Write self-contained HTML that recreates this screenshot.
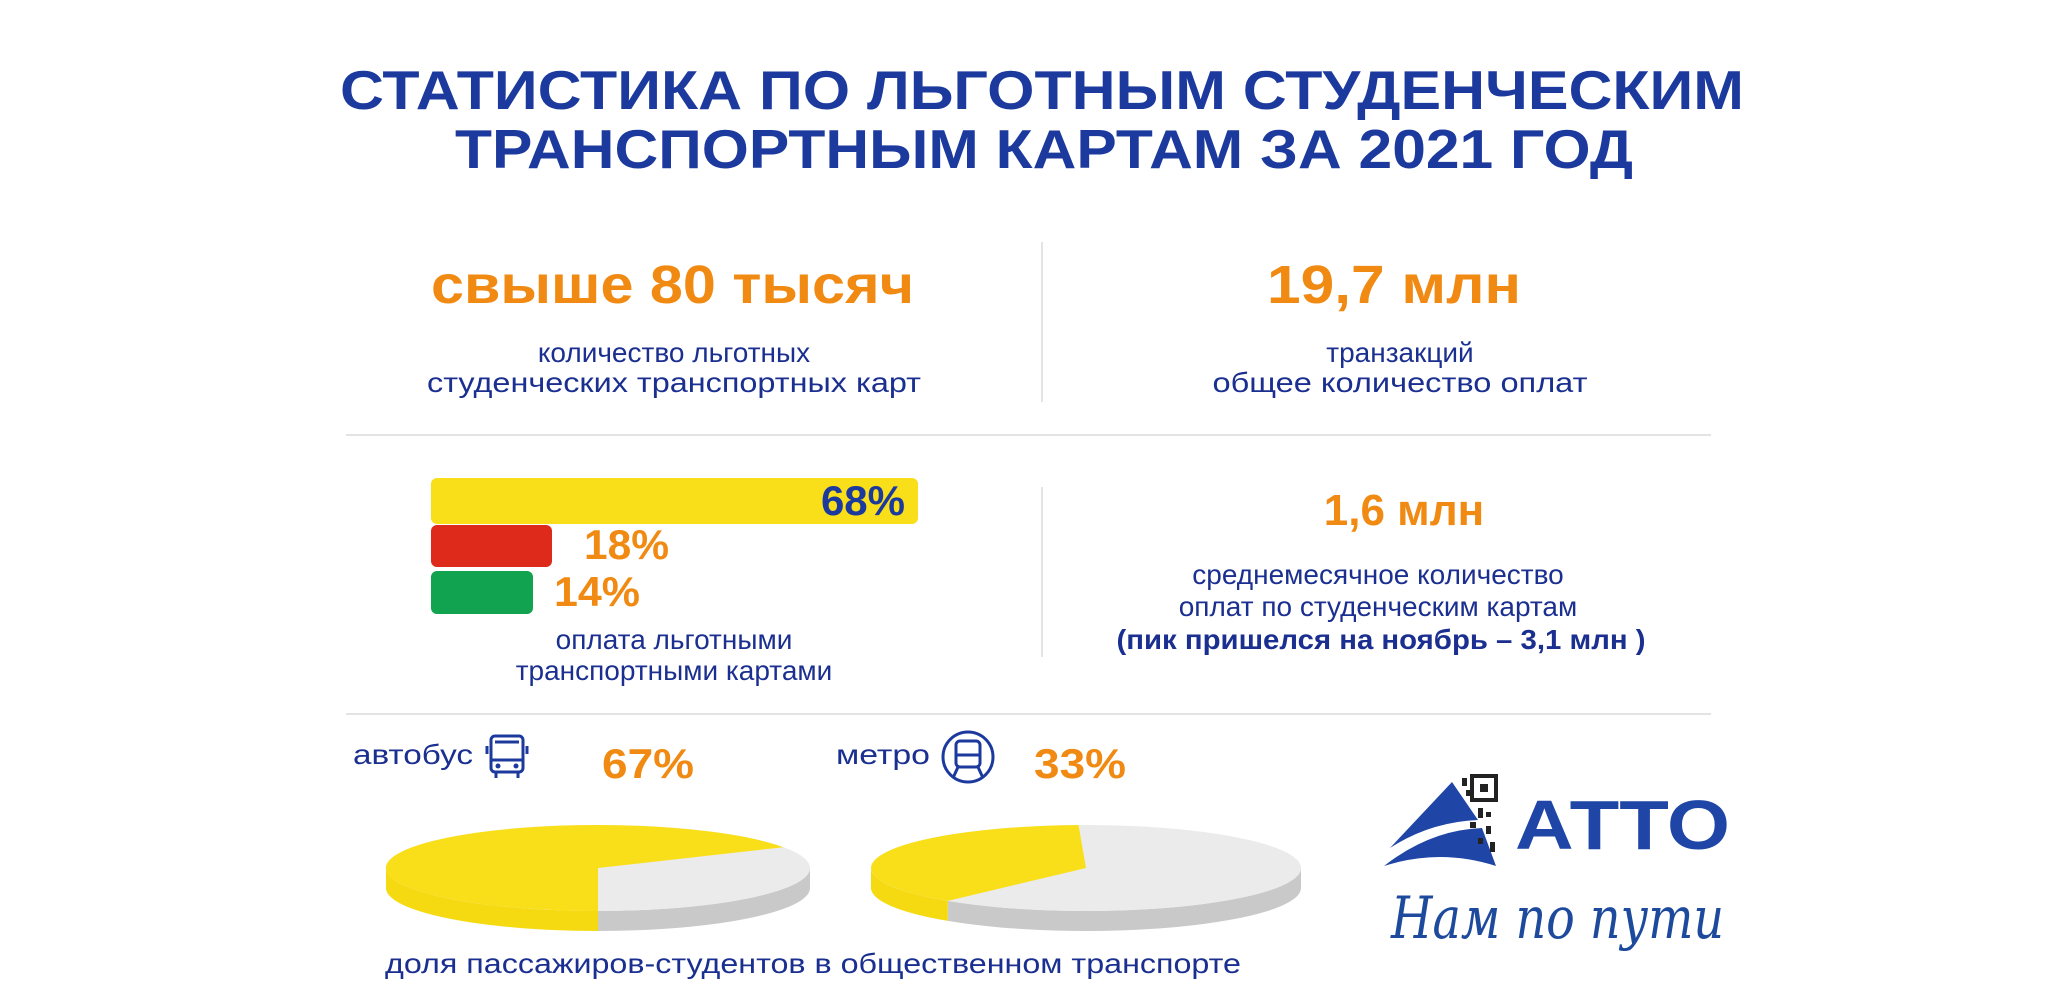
<!DOCTYPE html>
<html><head><meta charset="utf-8"><style>
html,body{margin:0;padding:0;background:#fff;}
svg{display:block;}
text{font-family:"Liberation Sans",sans-serif;}
</style></head><body>
<svg width="2048" height="1006" viewBox="0 0 2048 1006" xmlns="http://www.w3.org/2000/svg">
<rect width="2048" height="1006" fill="#fff"/>
<g fill="#1c3a9e" font-weight="bold" font-size="55">
<text x="340" y="109" textLength="1404" lengthAdjust="spacingAndGlyphs">СТАТИСТИКА ПО ЛЬГОТНЫМ СТУДЕНЧЕСКИМ</text>
<text x="455" y="168" textLength="1178" lengthAdjust="spacingAndGlyphs">ТРАНСПОРТНЫМ КАРТАМ ЗА 2021 ГОД</text>
</g>
<g stroke="#e3e3e3" stroke-width="2">
<line x1="1042" y1="242" x2="1042" y2="402"/>
<line x1="1042" y1="487" x2="1042" y2="657"/>
<line x1="346" y1="435" x2="1711" y2="435"/>
<line x1="346" y1="714" x2="1711" y2="714"/>
</g>
<g fill="#f08a12" font-weight="bold">
<text x="431" y="303" font-size="54" textLength="483" lengthAdjust="spacingAndGlyphs">свыше 80 тысяч</text>
<text x="1267" y="303" font-size="54" textLength="254" lengthAdjust="spacingAndGlyphs">19,7 млн</text>
<text x="1404" y="525" font-size="44" text-anchor="middle">1,6 млн</text>
<text x="584" y="559" font-size="42" textLength="85" lengthAdjust="spacingAndGlyphs">18%</text>
<text x="554" y="606" font-size="42" textLength="86" lengthAdjust="spacingAndGlyphs">14%</text>
<text x="602" y="778" font-size="42" textLength="92" lengthAdjust="spacingAndGlyphs">67%</text>
<text x="1034" y="778" font-size="42" textLength="92" lengthAdjust="spacingAndGlyphs">33%</text>
</g>
<g fill="#1a2f8f" font-size="28" text-anchor="middle">
<text x="674" y="362">количество льготных</text>
<text x="674" y="392" textLength="494" lengthAdjust="spacingAndGlyphs">студенческих транспортных карт</text>
<text x="1400" y="362">транзакций</text>
<text x="1400" y="392" textLength="375" lengthAdjust="spacingAndGlyphs">общее количество оплат</text>
<text x="674" y="649">оплата льготными</text>
<text x="674" y="680">транспортными картами</text>
<text x="1378" y="584">среднемесячное количество</text>
<text x="1378" y="616">оплат по студенческим картам</text>
<text x="1381" y="649" font-weight="bold" textLength="529" lengthAdjust="spacingAndGlyphs">(пик пришелся на ноябрь – 3,1 млн )</text>
<text x="813" y="973" textLength="856" lengthAdjust="spacingAndGlyphs">доля пассажиров-студентов в общественном транспорте</text>
</g>
<g fill="#1a2f8f" font-size="28">
<text x="353" y="764" textLength="120" lengthAdjust="spacingAndGlyphs">автобус</text>
<text x="836" y="764" textLength="94" lengthAdjust="spacingAndGlyphs">метро</text>
</g>
<rect x="431" y="478" width="487" height="46" rx="6" fill="#f9df1a"/>
<text x="905" y="515" font-size="42" font-weight="bold" fill="#1c3a9e" text-anchor="end">68%</text>
<rect x="431" y="525" width="121" height="42" rx="6" fill="#dd2a1b"/>
<rect x="431" y="571" width="102" height="43" rx="6" fill="#12a351"/>
<g fill="none" stroke="#1c3a9e" stroke-width="3">
<rect x="491" y="736" width="32" height="36" rx="4"/>
<line x1="491" y1="760" x2="523" y2="760"/>
<line x1="495" y1="742" x2="519" y2="742"/>
<line x1="496" y1="772" x2="496" y2="778"/><line x1="518" y1="772" x2="518" y2="778"/>
<line x1="487" y1="746" x2="487" y2="754"/><line x1="527" y1="746" x2="527" y2="754"/>
</g>
<g fill="#1c3a9e"><circle cx="498" cy="766" r="2.5"/><circle cx="516" cy="766" r="2.5"/></g>
<g fill="none" stroke="#1c3a9e" stroke-width="3">
<circle cx="968" cy="757" r="25"/>
<rect x="956" y="741" width="24" height="26" rx="4"/>
<line x1="956" y1="755" x2="980" y2="755"/>
<line x1="958" y1="767" x2="953" y2="778"/><line x1="978" y1="767" x2="983" y2="778"/>
</g>
<path d="M810,868 A212,43 0 0 1 598,911 L598,931 A212,43 0 0 0 810,888 Z" fill="#c9c9c9"/>
<path d="M598,911 A212,43 0 0 1 386,868 L386,888 A212,43 0 0 0 598,931 Z" fill="#f5da12"/>
<ellipse cx="598" cy="868" rx="212" ry="43" fill="#ebebeb"/>
<path d="M598,868 L598,911 A212,43 0 1 1 783.4,847.2 Z" fill="#f9df1a"/>
<path d="M1301,868 A215,43 0 0 1 947.8,900.9 L947.8,920.9 A215,43 0 0 0 1301,888 Z" fill="#c9c9c9"/>
<path d="M947.8,900.9 A215,43 0 0 1 871,868 L871,888 A215,43 0 0 0 947.8,920.9 Z" fill="#f5da12"/>
<ellipse cx="1086" cy="868" rx="215" ry="43" fill="#ebebeb"/>
<path d="M1086,868 L947.8,900.9 A215,43 0 0 1 1078.5,825 Z" fill="#f9df1a"/>
<path d="M1452,782 L1390,848 Q1430,822 1478,820 Z" fill="#1f45a6"/>
<path d="M1384,866 Q1430,830 1482,828 L1496,866 Q1440,848 1384,866 Z" fill="#1f45a6"/>
<g fill="#222">
<rect x="1472" y="776" width="24" height="24" fill="none" stroke="#222" stroke-width="4"/>
<rect x="1480" y="784" width="8" height="8"/>
<rect x="1462" y="778" width="5" height="8"/><rect x="1466" y="790" width="5" height="6"/>
<rect x="1478" y="808" width="5" height="10"/><rect x="1486" y="812" width="5" height="5"/>
<rect x="1470" y="822" width="6" height="6"/><rect x="1486" y="826" width="5" height="8"/>
<rect x="1478" y="838" width="5" height="6"/><rect x="1490" y="842" width="5" height="10"/>
</g>
<text x="1515" y="849" font-size="70" font-weight="bold" fill="#1f45a6" textLength="215" lengthAdjust="spacingAndGlyphs">АТТО</text>
<text x="1391" y="938" font-size="58" font-style="italic" fill="#1d4a9c" style="font-family:'DejaVu Serif',serif" textLength="333" lengthAdjust="spacingAndGlyphs">Нам по пути</text>
</svg>
</body></html>
